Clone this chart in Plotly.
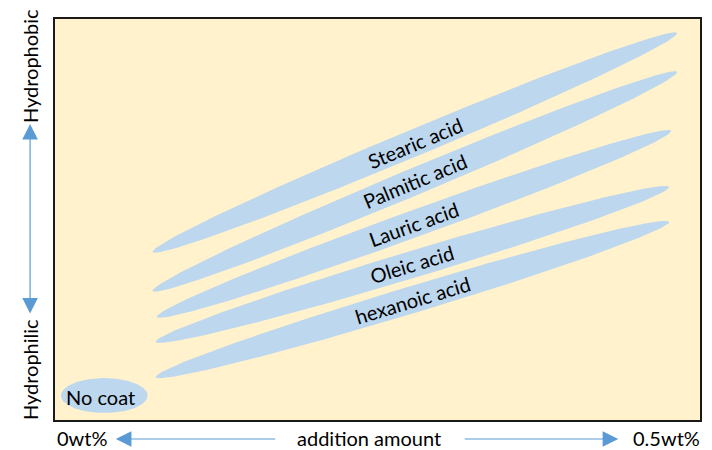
import numpy as np
import plotly.graph_objects as go

# ---------------- data ----------------
coatings = ["Stearic acid", "Palmitic acid", "Lauric acid", "Oleic acid", "hexanoic acid"]
# addition amount (wt%) at start / end of each band
add_start = [0.0757, 0.0757, 0.0788, 0.0781, 0.0781]
add_end = [0.4822, 0.4822, 0.4776, 0.4760, 0.4760]
# hydrophobicity (arbitrary scale 0-10) at start / end of each band
hyd_start = [4.19, 3.22, 2.57, 1.95, 1.07]
hyd_end = [9.65, 8.68, 7.21, 5.81, 4.94]

uncoated_label = "No coat"
uncoated_add = [0.0382]
uncoated_hyd = [0.61]
uncoated_add_span = [0.0672]
uncoated_hyd_span = [0.87]

x_tick_labels = ["0wt%", "0.5wt%"]
x_title = "addition amount"
y_labels = ["Hydrophilic", "Hydrophobic"]

# ---------------- style ----------------
W, H = 712, 450
ML, MR, MT, MB = 55, 10, 19, 30
PW, PH = W - ML - MR, H - MT - MB
XR = [0, 0.5]
YR = [0, 10]
SX = PW / (XR[1] - XR[0])
SY = PH / (YR[1] - YR[0])
BAND_PX = 27
FILL = "#BDD7EE"
BG = "#FFF2CC"
ARROW = "#5B9BD5"
FONT = "Lato"
FS = 20

fig = go.Figure()

t = np.linspace(0, 2 * np.pi, 240)
for name, x0, x1, y0, y1 in zip(coatings, add_start, add_end, hyd_start, hyd_end):
    px0, py0, px1, py1 = x0 * SX, y0 * SY, x1 * SX, y1 * SY
    cx, cy = (px0 + px1) / 2, (py0 + py1) / 2
    L = np.hypot(px1 - px0, py1 - py0)
    ang = np.arctan2(py1 - py0, px1 - px0)
    a = L / 2 * np.cos(t)
    b = BAND_PX / 2 * np.sin(t)
    ex = cx + a * np.cos(ang) - b * np.sin(ang)
    ey = cy + a * np.sin(ang) + b * np.cos(ang)
    fig.add_trace(go.Scatter(x=ex / SX, y=ey / SY, mode="lines", fill="toself",
                             fillcolor=FILL, line=dict(width=0, color=FILL),
                             hoverinfo="skip", showlegend=False))
    fig.add_annotation(x=cx / SX, y=cy / SY, text=name, showarrow=False,
                       textangle=-np.degrees(ang), xanchor="center", yanchor="middle",
                       font=dict(family=FONT, size=FS, color="black"))

# no coat ellipse
for cxd, cyd, wd, hd in zip(uncoated_add, uncoated_hyd, uncoated_add_span, uncoated_hyd_span):
    fig.add_trace(go.Scatter(x=cxd + wd / 2 * np.cos(t), y=cyd + hd / 2 * np.sin(t),
                             mode="lines", fill="toself", fillcolor=FILL,
                             line=dict(width=0, color=FILL), hoverinfo="skip",
                             showlegend=False))
    fig.add_annotation(x=cxd - 0.003, y=cyd - 0.03, text=uncoated_label, showarrow=False,
                       xanchor="center", yanchor="middle",
                       font=dict(family=FONT, size=FS, color="black"))


def px2paper(px, py):
    return (px - ML) / PW, (H - MB - py) / PH


# y-axis labels
for lab, (px, py) in zip(y_labels, [(30, 370), (30, 66)]):
    xp, yp = px2paper(px, py)
    fig.add_annotation(xref="paper", yref="paper", x=xp, y=yp, text=lab,
                       showarrow=False, textangle=-90, xanchor="center", yanchor="middle",
                       font=dict(family=FONT, size=FS, color="black"))

# vertical double arrow
xp, yp = px2paper(30, 124)
fig.add_annotation(xref="paper", yref="paper", x=xp, y=yp, ax=0, ay=191, text="",
                   showarrow=True, arrowhead=2, startarrowhead=2, arrowside="end+start",
                   arrowsize=2.6, startarrowsize=2.6, arrowwidth=1.2, arrowcolor=ARROW)

# x-axis labels
for lab, (px, py) in zip(x_tick_labels + [x_title], [(83, 438), (668, 438), (370, 438)]):
    xp, yp = px2paper(px, py)
    fig.add_annotation(xref="paper", yref="paper", x=xp, y=yp, text=lab,
                       showarrow=False, xanchor="center", yanchor="middle", borderpad=0,
                       font=dict(family=FONT, size=FS, color="black"))

# horizontal arrows
xp, yp = px2paper(116, 439)
fig.add_annotation(xref="paper", yref="paper", x=xp, y=yp, ax=161, ay=0, text="",
                   showarrow=True, arrowhead=2, arrowsize=2.6, arrowwidth=1.2, arrowcolor=ARROW)
xp, yp = px2paper(620, 439)
fig.add_annotation(xref="paper", yref="paper", x=xp, y=yp, ax=-155, ay=0, text="",
                   showarrow=True, arrowhead=2, arrowsize=2.6, arrowwidth=1.2, arrowcolor=ARROW)

fig.update_xaxes(range=XR, showgrid=False, zeroline=False, showticklabels=False,
                 ticks="", showline=True, mirror=True, linecolor="#1a1a1a", linewidth=2)
fig.update_yaxes(range=YR, showgrid=False, zeroline=False, showticklabels=False,
                 ticks="", showline=True, mirror=True, linecolor="#1a1a1a", linewidth=2)
fig.update_layout(width=W, height=H, margin=dict(l=ML, r=MR, t=MT, b=MB),
                  plot_bgcolor=BG, paper_bgcolor="white", showlegend=False)

fig.write_html("out.html", config={"displayModeBar": False},
               post_script="document.body.style.margin='0';")
